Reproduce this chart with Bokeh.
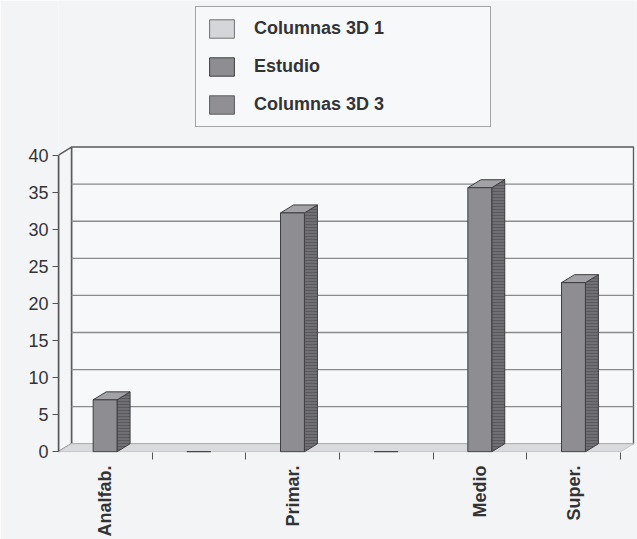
import math
from bokeh.plotting import figure
from bokeh.models import Range1d, FixedTicker, Legend, LegendItem, ColumnDataSource
from bokeh.embed import file_html
from bokeh.resources import INLINE

# ---- data ----
categories = ["Analfab.", "", "Primar.", "", "Medio", "Super."]
estudio = [7.0, 0.0, 32.2, 0.0, 35.6, 22.8]
y_ticks = [0, 5, 10, 15, 20, 25, 30, 35, 40]
legend_labels = ["Columnas 3D 1", "Estudio", "Columnas 3D 3"]

# ---- 3D styling constants ----
DX, DY = 0.139, 1.076          # depth offset (x in category units, y in value units)
BAR_L, BAR_R = 0.37, 0.625     # front face position inside a category
YMAX = y_ticks[-1]
n = len(categories)

FONT = "Liberation Sans"
TXT = "#333336"
BG = "#f3f4f6"

p = figure(width=637, height=539,
           x_range=Range1d(0, 6.149), y_range=Range1d(-0.1, 60.84),
           output_backend="svg", toolbar_location=None,
           min_border_left=58, min_border_right=3, min_border_top=0, min_border_bottom=86)
p.background_fill_color = BG
p.border_fill_color = BG
p.outline_line_color = None
p.xgrid.visible = False
p.ygrid.visible = False

# walls
p.quad(left=[DX], right=[n + DX], bottom=[DY], top=[YMAX + DY],
       fill_color="#f7f8f9", line_color="#5a5a5e", line_width=1.5)
p.patch([0, DX, DX, 0], [0, DY, YMAX + DY, YMAX],
        fill_color="#f4f5f7", line_color="#5a5a5e", line_width=1.5)
p.patch([0, n, n + DX, DX], [0, 0, DY, DY],
        fill_color="#d9dadd", line_color="#c4c5c8", line_width=1)

# gridlines on back wall
gv = y_ticks[1:-1]
p.segment(x0=[DX] * len(gv), y0=[v + DY for v in gv],
          x1=[n + DX] * len(gv), y1=[v + DY for v in gv],
          line_color="#8a8a8e", line_width=1.3)

# bars
x0 = [i + BAR_L for i in range(n)]
x1 = [i + BAR_R for i in range(n)]
nz = [i for i in range(n) if estudio[i] > 0]
side_xs = [[x1[i], x1[i] + DX, x1[i] + DX, x1[i]] for i in nz]
side_ys = [[0, DY, estudio[i] + DY, estudio[i]] for i in nz]
top_xs = [[x0[i], x1[i], x1[i] + DX, x0[i] + DX] for i in nz]
top_ys = [[estudio[i], estudio[i], estudio[i] + DY, estudio[i] + DY] for i in nz]

OUT = "#3e3e42"
p.patches(side_xs, side_ys, fill_color="#6f6f74", line_color=OUT, line_width=1,
          hatch_pattern="horizontal_line", hatch_color="#505055", hatch_scale=3, hatch_weight=0.7)
p.patches(top_xs, top_ys, fill_color="#a2a2a7", line_color=OUT, line_width=1)
src = ColumnDataSource(dict(left=x0, right=x1, top=estudio, bottom=[0] * n))
r_est = p.quad(left="left", right="right", top="top", bottom="bottom", source=src,
               fill_color="#8d8d92", line_color=OUT, line_width=1)

# legend-only series (no visible marks: placed outside the view)
r1 = p.quad(left=[-3], right=[-2], top=[-2], bottom=[-3], fill_color="#d5d6d9", line_color="#707075", line_width=1)
r3 = p.quad(left=[-3], right=[-2], top=[-2], bottom=[-3], fill_color="#8f8f94", line_color="#5a5a5e", line_width=1)

legend = Legend(items=[LegendItem(label=legend_labels[0], renderers=[r1]),
                       LegendItem(label=legend_labels[1], renderers=[r_est]),
                       LegendItem(label=legend_labels[2], renderers=[r3])],
                location=(137, 325))
legend.label_text_font = FONT
legend.label_text_font_style = "bold"
legend.label_text_font_size = "18px"
legend.label_text_color = TXT
legend.glyph_width = 31
legend.glyph_height = 23
legend.label_height = 23
legend.spacing = 15
legend.padding = 10
legend.margin = 0
legend.label_standoff = 17
legend.label_width = 226
legend.border_line_color = "#505054"
legend.border_line_width = 1.5
legend.background_fill_color = "#f7f8f9"
legend.background_fill_alpha = 1
p.add_layout(legend)

# y axis
p.yaxis.ticker = FixedTicker(ticks=y_ticks)
p.yaxis.bounds = (0, YMAX)
p.yaxis.axis_line_color = "#555559"
p.yaxis.axis_line_width = 1.5
p.yaxis.major_tick_out = 6
p.yaxis.major_tick_in = 0
p.yaxis.major_tick_line_color = "#555559"
p.yaxis.minor_tick_line_color = None
p.yaxis.major_label_standoff = 4
p.yaxis.major_label_text_font = FONT
p.yaxis.major_label_text_font_size = "18px"
p.yaxis.major_label_text_color = TXT

# x axis
centers = [i + 0.5 for i in range(n)]
p.xaxis.ticker = FixedTicker(ticks=centers, minor_ticks=list(range(1, n + 1)))
p.xaxis.major_label_overrides = {c: lab for c, lab in zip(centers, categories)}
p.xaxis.axis_line_color = None
p.xaxis.major_tick_line_color = None
p.xaxis.minor_tick_line_color = "#555559"
p.xaxis.minor_tick_out = 7
p.xaxis.minor_tick_in = 0
p.xaxis.major_label_orientation = math.pi / 2
p.xaxis.major_label_standoff = 6
p.xaxis.major_label_text_font = FONT
p.xaxis.major_label_text_font_style = "bold"
p.xaxis.major_label_text_font_size = "18px"
p.xaxis.major_label_text_color = TXT

open("out.html", "w").write(file_html(p, INLINE))
